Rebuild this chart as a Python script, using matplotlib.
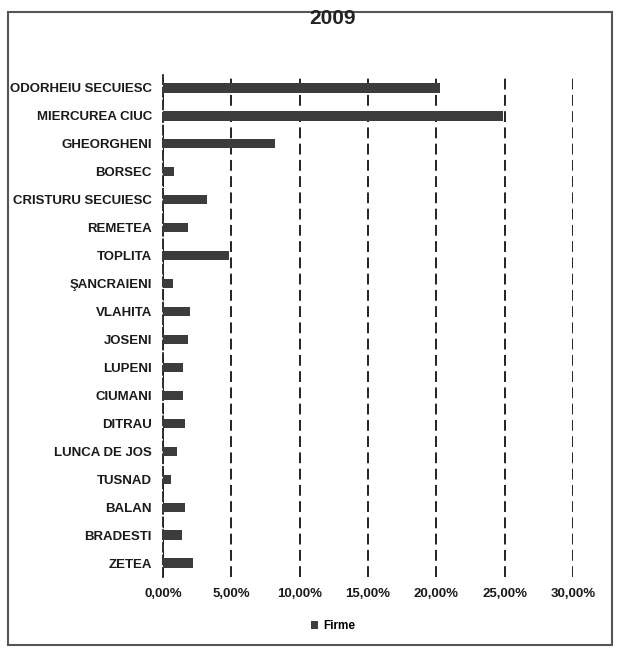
import matplotlib.pyplot as plt
from matplotlib.ticker import FuncFormatter
from matplotlib.patches import Rectangle

# data (share of firms, %)
towns = ['ODORHEIU SECUIESC', 'MIERCUREA CIUC', 'GHEORGHENI', 'BORSEC',
         'CRISTURU SECUIESC', 'REMETEA', 'TOPLITA', 'ŞANCRAIENI', 'VLAHITA',
         'JOSENI', 'LUPENI', 'CIUMANI', 'DITRAU', 'LUNCA DE JOS', 'TUSNAD',
         'BALAN', 'BRADESTI', 'ZETEA']
firme = [20.3, 24.9, 8.2, 0.8, 3.2, 1.8, 4.8, 0.7, 2.0,
         1.8, 1.5, 1.5, 1.6, 1.0, 0.6, 1.6, 1.4, 2.2]
xticks = [0, 5, 10, 15, 20, 25, 30]

plt.rcParams['font.family'] = ['Liberation Sans Narrow', 'Liberation Sans', 'DejaVu Sans']
plt.rcParams['font.weight'] = 'bold'

fig = plt.figure(figsize=(6.18, 6.53), dpi=100)
ax = fig.add_axes([163 / 618, 1 - 577 / 653, (573 - 163) / 618, (577 - 74) / 653])

ypos = list(range(len(towns)))
ax.barh(ypos, firme, height=0.33, color='#3c3c3c', zorder=3)
ax.set_yticks(ypos)
ax.set_yticklabels(towns, fontsize=9.5, fontweight='bold', color='#1a1a1a')
ax.set_ylim(len(towns) - 0.5, -0.5)

ax.set_xlim(0, 30)
ax.set_xticks(xticks)
ax.xaxis.set_major_formatter(FuncFormatter(lambda v, p: f'{v:.2f}%'.replace('.', ',')))
ax.tick_params(axis='x', labelsize=9.5, length=0, pad=8, labelcolor='#1a1a1a')
ax.tick_params(axis='y', length=0, pad=8)

ax.grid(axis='x', color='#111111', linestyle=(0, (6, 3)), linewidth=1.3, zorder=1)
for s in ['top', 'right', 'bottom']:
    ax.spines[s].set_visible(False)
ax.spines['left'].set_color('#222222')
ax.spines['left'].set_linestyle((0, (5, 2)))
ax.spines['left'].set_linewidth(1.3)

fig.text(333 / 618, 1 - 18 / 653, '2009', ha='center', va='center',
         fontsize=15, fontweight='bold', color='#222222')

# legend
leg = ax.legend(['Firme'], loc='center', bbox_to_anchor=(333 / 618, 1 - 626 / 653),
                bbox_transform=fig.transFigure, frameon=False, fontsize=8.5,
                handlelength=0.6, handleheight=0.6, handletextpad=0.4)

# chart frame from the scan
fig.patches.append(Rectangle((8 / 618, 8 / 653), 604 / 618, 633 / 653,
                             transform=fig.transFigure, fill=False,
                             edgecolor='#555555', linewidth=1.5))

fig.savefig('out.png', dpi=100)
